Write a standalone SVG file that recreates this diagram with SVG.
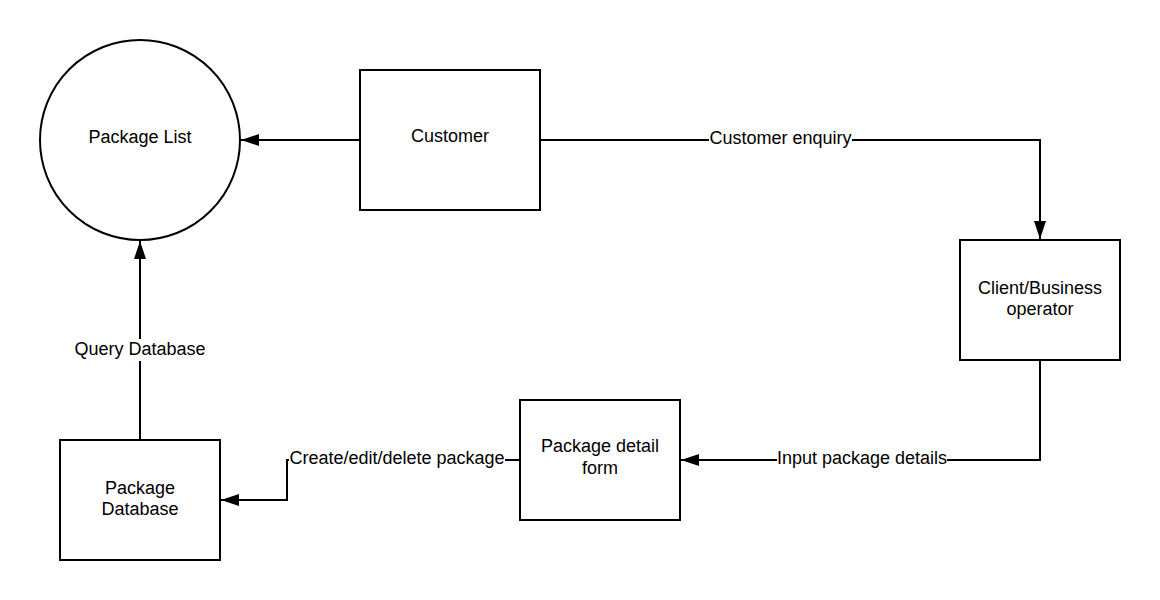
<svg xmlns="http://www.w3.org/2000/svg" width="1160" height="600" viewBox="0 0 1160 600">
<defs>
<style>
.shape{fill:#fff;stroke:#000;stroke-width:2}
.t{font-family:"Liberation Sans",Arial,sans-serif;font-size:18px;fill:#000;text-anchor:middle}
.c{fill:none;stroke:#000;stroke-width:2}
.lb{fill:#fff}
</style>
<marker id="ah" markerWidth="18" markerHeight="12" refX="18" refY="6" orient="auto" markerUnits="userSpaceOnUse">
<path d="M0,0 L18,6 L0,12 Z" fill="#000"/>
</marker>
</defs>
<rect width="1160" height="600" fill="#fff"/>
<g id="connectors">
<path class="c" d="M360,140 L241,140" marker-end="url(#ah)"/>
<path class="c" d="M540,140 L1040,140 L1040,239" marker-end="url(#ah)"/>
<path class="c" d="M1040,360 L1040,460 L681,460" marker-end="url(#ah)"/>
<path class="c" d="M520,460 L287,460 L287,500 L221,500" marker-end="url(#ah)"/>
<path class="c" d="M140,440 L140,241" marker-end="url(#ah)"/>
<rect class="lb" x="709" y="128" width="143" height="22"/>
<text class="t" x="780.5" y="144">Customer enquiry</text>
<rect class="lb" x="777" y="448" width="170" height="22"/>
<text class="t" x="862" y="464">Input package details</text>
<rect class="lb" x="289" y="448" width="216" height="22"/>
<text class="t" x="397" y="464">Create/edit/delete package</text>
<rect class="lb" x="72" y="339" width="136" height="22"/>
<text class="t" x="140" y="355">Query Database</text>
</g>
<g id="package-list">
<circle class="shape" cx="140" cy="140" r="100"/>
<text class="t" x="140" y="143">Package List</text>
</g>
<g id="customer">
<rect class="shape" x="360" y="70" width="180" height="140"/>
<text class="t" x="450" y="142">Customer</text>
</g>
<g id="client-business-operator">
<rect class="shape" x="960" y="240" width="160" height="120"/>
<text class="t" x="1040" y="294">Client/Business</text>
<text class="t" x="1040" y="315">operator</text>
</g>
<g id="package-detail-form">
<rect class="shape" x="520" y="400" width="160" height="120"/>
<text class="t" x="600" y="452">Package detail</text>
<text class="t" x="600" y="474">form</text>
</g>
<g id="package-database">
<rect class="shape" x="60" y="440" width="160" height="120"/>
<text class="t" x="140" y="494">Package</text>
<text class="t" x="140" y="515">Database</text>
</g>
</svg>
